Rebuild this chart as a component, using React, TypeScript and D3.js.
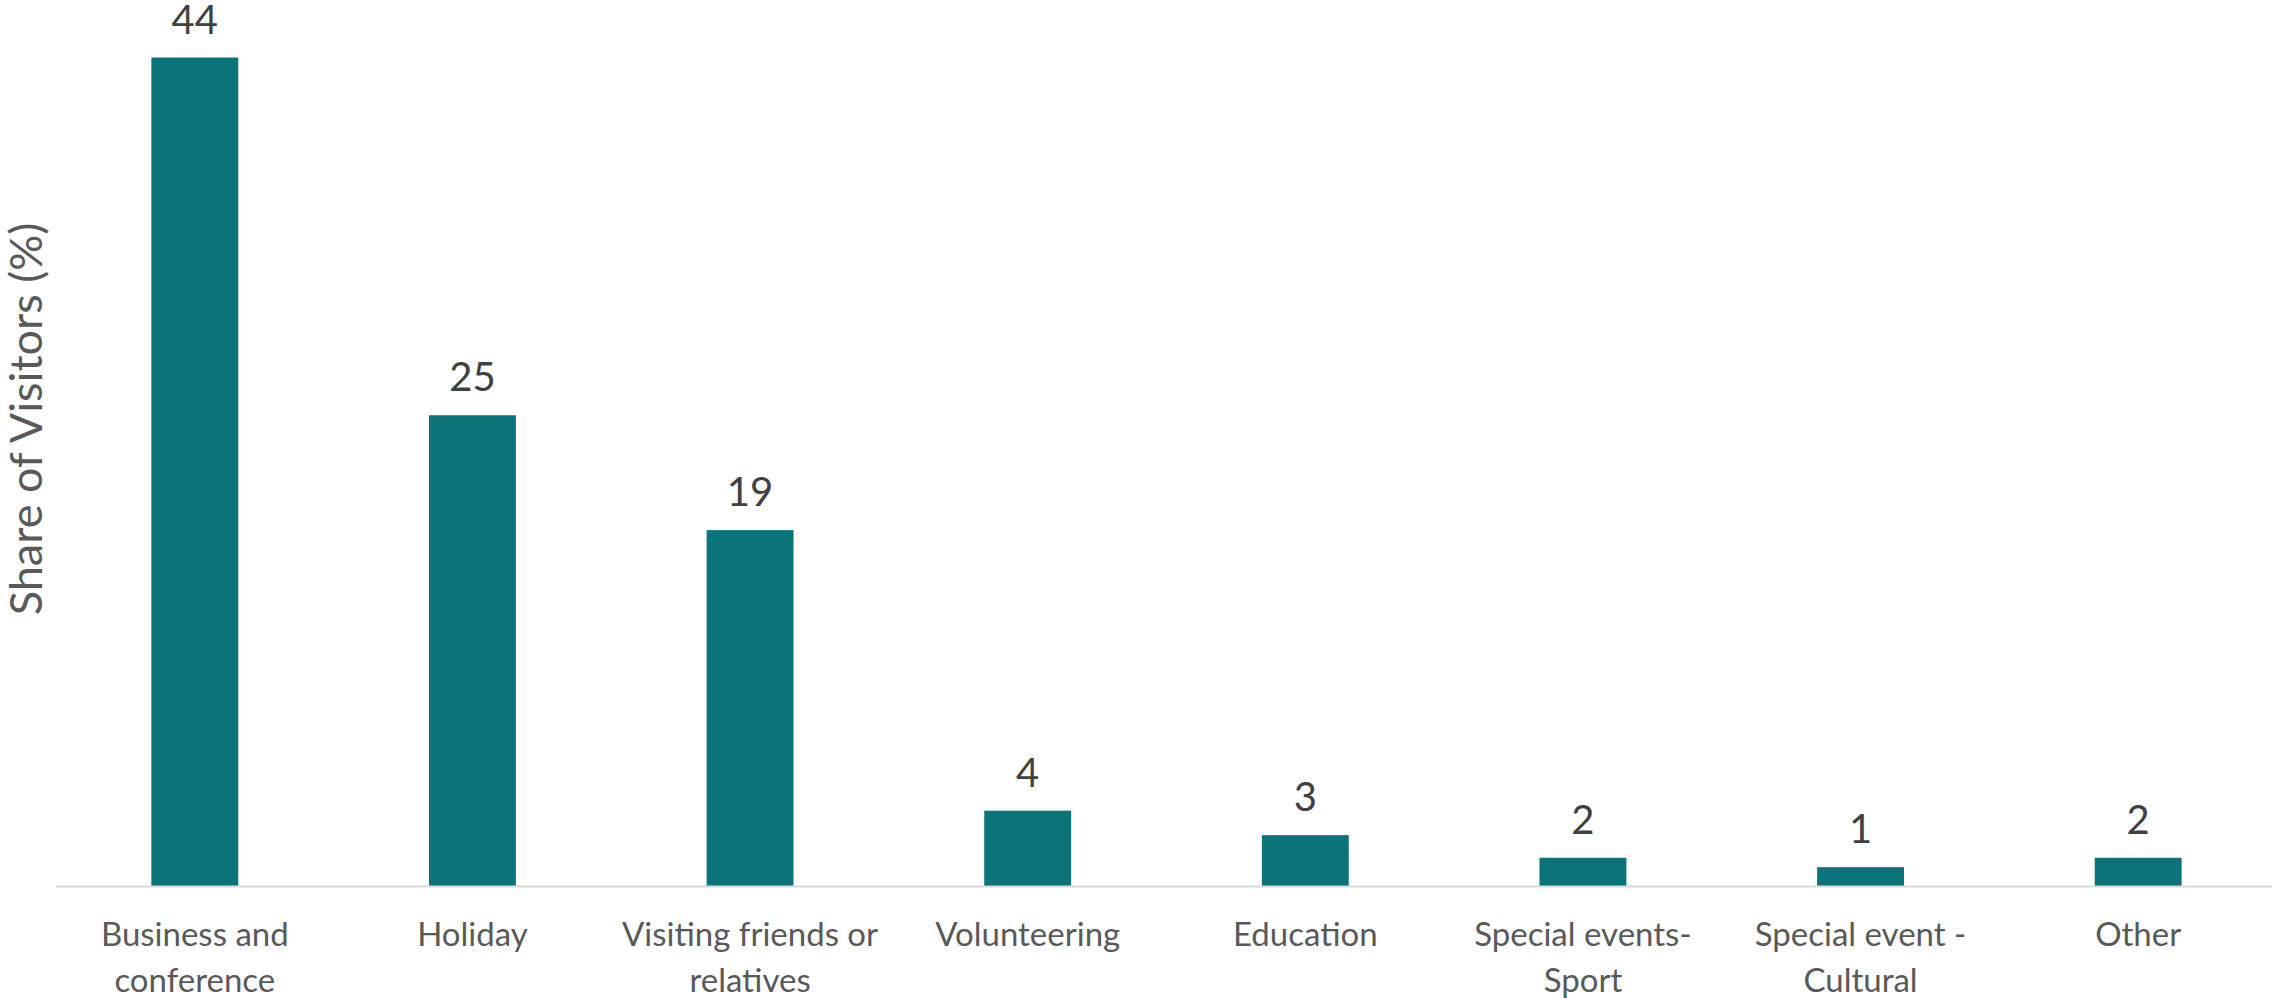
import React from "react";
import * as d3 from "d3";

const categories: string[] = [
  "Business and conference",
  "Holiday",
  "Visiting friends or relatives",
  "Volunteering",
  "Education",
  "Special events-Sport",
  "Special event - Cultural",
  "Other",
];

const tickLines: string[][] = [
  ["Business and", "conference"],
  ["Holiday"],
  ["Visiting friends or", "relatives"],
  ["Volunteering"],
  ["Education"],
  ["Special events-", "Sport"],
  ["Special event -", "Cultural"],
  ["Other"],
];

const shares: number[] = [44, 25, 18.9, 4, 2.7, 1.5, 1.0, 1.5];

const yTitle = "Share of Visitors (%)";

const W = 2272;
const H = 998;
const FONT = "Lato, 'Open Sans', sans-serif";

export default function App() {
  const x = d3
    .scaleBand<string>()
    .domain(categories)
    .range([56, 2277])
    .paddingInner(0.687)
    .paddingOuter(0.3435);
  const y = d3.scaleLinear().domain([0, 44]).range([886, 57.5]);

  return (
    <svg
      width={W}
      height={H}
      style={{ position: "absolute", left: 0, top: 0, background: "#fff" }}
    >
      {categories.map((c, i) => (
        <rect
          key={c}
          x={x(c)}
          y={y(shares[i])}
          width={x.bandwidth()}
          height={y(0) - y(shares[i])}
          fill="#0b737a"
        />
      ))}
      <line x1={56} x2={W} y1={886.5} y2={886.5} stroke="#d9d9d9" strokeWidth={2} />
      {categories.map((c, i) => (
        <text
          key={"v" + c}
          x={(x(c) as number) + x.bandwidth() / 2}
          y={y(shares[i]) - 24}
          textAnchor="middle"
          fontFamily={FONT}
          fontSize={40}
          fill="#404040"
        >
          {Math.round(shares[i])}
        </text>
      ))}
      {categories.map((c, i) => (
        <text
          key={"t" + c}
          textAnchor="middle"
          fontFamily={FONT}
          fontSize={33}
          fill="#595959"
        >
          {tickLines[i].map((ln, j) => (
            <tspan key={j} x={(x(c) as number) + x.bandwidth() / 2} y={945.7 + j * 46}>
              {ln}
            </tspan>
          ))}
        </text>
      ))}
      <text
        transform="translate(42,419) rotate(-90)"
        textAnchor="middle"
        fontFamily={FONT}
        fontSize={45}
        fill="#595959"
      >
        {yTitle}
      </text>
    </svg>
  );
}
